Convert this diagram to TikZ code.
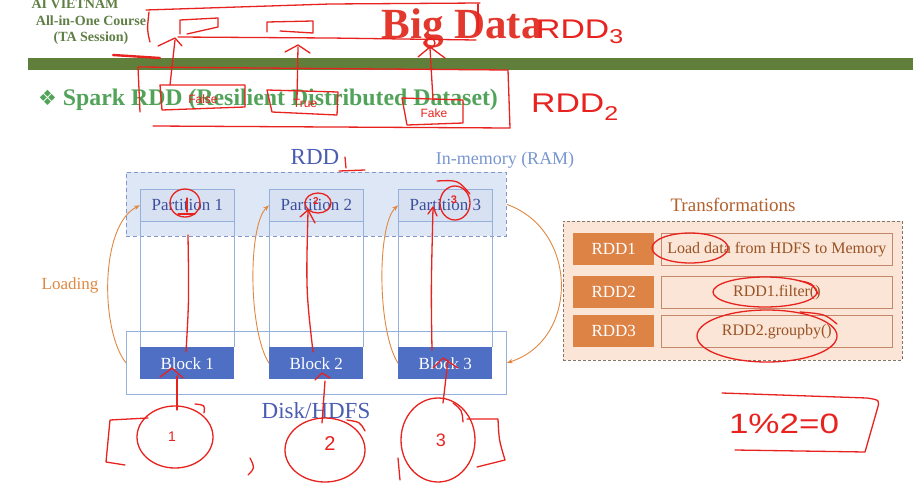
\documentclass[tikz,border=0pt]{standalone}
\usepackage{fontspec}
\usepackage{graphicx}
\setmainfont{Liberation Serif}
\newfontfamily\symfont{DejaVu Sans}
\newfontfamily\handfont{Liberation Sans}
\usetikzlibrary{arrows.meta}
\newcommand\setfs[1]{\fontsize{#1}{#1}\selectfont}
\definecolor{hdrgreen}{HTML}{5F7F45}
\definecolor{bargreen}{HTML}{5F7F3B}
\definecolor{titlegreen}{HTML}{52A35A}
\definecolor{bigred}{HTML}{E3382D}
\definecolor{annred}{HTML}{E8231F}
\definecolor{rddblue}{HTML}{4A5DB0}
\definecolor{parttext}{HTML}{3D4F9C}
\definecolor{inmem}{HTML}{7896D0}
\definecolor{memfill}{HTML}{DEE7F5}
\definecolor{memdash}{HTML}{8397CC}
\definecolor{partfill}{HTML}{D8E1F2}
\definecolor{colline}{HTML}{95B0DA}
\definecolor{blockfill}{HTML}{4E6FC3}
\definecolor{orarr}{HTML}{E0883F}
\definecolor{transtitle}{HTML}{B4602B}
\definecolor{transfill}{HTML}{FBE5D6}
\definecolor{transdash}{HTML}{857565}
\definecolor{rddbox}{HTML}{DE8346}
\definecolor{contborder}{HTML}{C5876A}
\begin{document}
\begin{tikzpicture}[x=1pt,y=-1pt,
  ann/.style={draw=annred, line width=1.3pt, line cap=round, line join=round},
  ldarrow/.style={draw=orarr, line width=0.9pt, -{Stealth[length=6pt,width=4.5pt]}},
  parthdr/.style={draw=colline, fill=partfill, line width=0.7pt, minimum width=94pt, minimum height=32pt, anchor=north west, inner sep=0pt, text=parttext, font=\setfs{17}},
  blockbox/.style={fill=blockfill, minimum width=94pt, minimum height=32pt, anchor=north west, inner sep=0pt, text=white, font=\setfs{17}},
  rddlab/.style={fill=rddbox, minimum width=81pt, minimum height=32pt, anchor=north west, inner sep=0pt, text=white, font=\setfs{17}},
  contbox/.style={draw=contborder, fill=transfill, line width=0.7pt, minimum width=231pt, minimum height=32pt, anchor=north west, inner sep=0pt, text=transtitle!85!black, font=\setfs{16}},
  handtxt/.style={text=annred, font=\handfont\setfs{12}, inner sep=0pt}
]
\useasboundingbox (0,0) rectangle (913,490);
\fill[white] (0,0) rectangle (913,490);

% header
\node[text=hdrgreen, font=\bfseries\setfs{14}, inner sep=0pt, anchor=base] (hdr1) at (75,8) {AI VIETNAM};
\node[text=hdrgreen, font=\bfseries\setfs{14}, inner sep=0pt, anchor=base] (hdr2) at (91,25) {All-in-One Course};
\node[text=hdrgreen, font=\bfseries\setfs{14}, inner sep=0pt, anchor=base] (hdr3) at (91,41) {(TA Session)};
\node[text=bigred, font=\bfseries\setfs{43}, inner sep=0pt, anchor=base] (big) at (462,38) {Big Data};
\fill[bargreen] (28,58) rectangle (913,70);
\node[text=titlegreen, font=\bfseries\setfs{23.8}, inner sep=0pt, anchor=base west] (title) at (38,105) {{\symfont\setfs{21}❖} Spark RDD (Resilient Distributed Dataset)};

% memory area
\node[draw=memdash, fill=memfill, dash pattern=on 4pt off 3pt, line width=0.8pt, minimum width=380pt, minimum height=64pt, anchor=north west, inner sep=0pt] (mem) at (126,172) {};
\node[text=rddblue, font=\setfs{23}, inner sep=0pt] (rddt) at (315,157) {RDD};
\node[text=inmem, font=\setfs{18}, inner sep=0pt] (inm) at (505,160) {In-memory (RAM)};

% columns
\foreach \i/\x in {1/140,2/269,3/398}{
  \draw[colline, line width=0.7pt] (\x,221) -- (\x,347) (\x+94,221) -- (\x+94,347);
}
\node[parthdr] (p1) at (140,189) {Partition 1};
\node[parthdr] (p2) at (269,189) {Partition 2};
\node[parthdr] (p3) at (398,189) {Partition 3};

% disk
\node[draw=colline, line width=0.8pt, minimum width=380pt, minimum height=63pt, anchor=north west, inner sep=0pt] (disk) at (126,331) {};
\node[blockbox] (b1) at (140,347) {Block 1};
\node[blockbox] (b2) at (269,347) {Block 2};
\node[blockbox] (b3) at (398,347) {Block 3};
\node[text=rddblue, font=\setfs{23}, inner sep=0pt] (hdfs) at (316,411) {Disk/HDFS};

% loading arrows
\draw[ldarrow] (disk.west) .. controls (100,330) and (100,225) .. (p1.west);
\draw[ldarrow] (b2.west) .. controls (248,330) and (248,225) .. (p2.west);
\draw[ldarrow] (b3.west) .. controls (377,330) and (377,225) .. (p3.west);
\draw[ldarrow] (mem.east) .. controls (579,230) and (579,340) .. (disk.east);
\node[text=orarr, font=\setfs{17}, inner sep=0pt] (load) at (70,285) {Loading};

% transformations
\node[text=transtitle, font=\setfs{19}, inner sep=0pt] (trt) at (733,205) {Transformations};
\node[draw=transdash, fill=transfill, dash pattern=on 3pt off 2pt, line width=0.8pt, minimum width=339pt, minimum height=139pt, anchor=north west, inner sep=0pt] (trbox) at (563,221) {};
\node[rddlab] (r1) at (573,233) {RDD1};
\node[rddlab] (r2) at (573,276) {RDD2};
\node[rddlab] (r3) at (573,315) {RDD3};
\node[contbox] (c1) at (661,233) {Load data from HDFS to Memory};
\node[contbox] (c2) at (661,276) {RDD1.filter()};
\node[contbox] (c3) at (661,315) {RDD2.groupby()};

% ===== red annotations =====
% top
\draw[ann] (150,42) .. controls (147,30) .. (149,12);
\draw[ann] (146,10) -- (330,4) -- (480,3);
\draw[ann] (478,4) -- (478,32);
\draw[ann] (178,37) -- (330,38) -- (476,40);
\draw[ann] (180,34) -- (180,20) -- (218,18) -- (218,27) -- (187,34);
\draw[ann] (267,32) -- (267,22) -- (313,21) -- (313,33) -- (280,31);
\draw[ann] (170,85) -- (175,40);
\draw[ann] (158,46) -- (175,38) -- (182,46);
\draw[ann] (297,100) -- (298,47);
\draw[ann] (285,52) -- (298,45) -- (310,53);
\draw[ann] (433,100) -- (430,48);
\draw[ann] (430,43) circle [radius=5];
\draw[ann] (418,57) -- (430,47) -- (445,58);
\draw[ann, line width=2.4pt] (113,55) -- (160,58);
\draw[ann] (140,112) -- (138,67) -- (508,70) -- (510,128) -- (153,126);
\draw[ann] (160,85) -- (245,85) -- (245,107) -- (162,110) -- cycle;
\draw[ann] (267,90) -- (338,92) -- (337,115) -- (272,112) -- cycle;
\draw[ann] (402,98) -- (463,100) -- (463,123) -- (407,125) -- cycle;
\node[handtxt] (fal) at (203,99) {False};
\node[handtxt] (tru) at (305,103) {True};
\node[handtxt] (fak) at (434,113) {Fake};
\node[text=annred, font=\handfont\setfs{27}, inner sep=0pt, anchor=base west] (rdd3) at (536,38) {\scalebox{1.25}[1]{RDD\raisebox{-5pt}{\setfs{20}3}}};
\node[text=annred, font=\handfont\setfs{27}, inner sep=0pt, anchor=base west] (rdd2) at (531,112) {\scalebox{1.25}[1]{RDD\raisebox{-8pt}{\setfs{20}2}}};

% partitions / blocks
\draw[ann] (345,157) -- (346,168);
\draw[ann] (339,171) -- (365,170);
\draw[ann] (185,203) ellipse [x radius=15, y radius=14];
\draw[ann] (187,198) -- (187,212);
\draw[ann] (178,214) -- (195,214);
\draw[ann] (318,203) ellipse [x radius=13, y radius=10];
\node[text=annred, font=\handfont\bfseries\setfs{10}, inner sep=0pt] (q2) at (316,201) {2};
\draw[ann] (455,203) ellipse [x radius=15, y radius=17];
\node[text=annred, font=\handfont\bfseries\setfs{11}, inner sep=0pt] (q3) at (454,200) {3};
\draw[ann] (437,181) .. controls (458,180) .. (470,194);
\draw[ann] (186,352) .. controls (189,300) .. (188,235);
\draw[ann] (313,352) .. controls (306,290) .. (308,211);
\draw[ann] (300,217) -- (308,210) -- (315,223);
\draw[ann] (432,350) .. controls (431,290) .. (433,208);
\draw[ann] (428,214) -- (433,207) -- (437,216);

\draw[ann] (160,377) -- (172,368) -- (183,378);
\draw[ann] (177,376) -- (177,410);
\draw[ann] (175,437) ellipse [x radius=38, y radius=31];
\draw[ann] (195,404) .. controls (205,405) .. (204,413);
\node[text=annred, font=\handfont\setfs{14}, inner sep=0pt] (n1) at (172,437) {1};
\draw[ann] (148,418) -- (110,420) -- (106,462) -- (125,465);
\draw[ann] (315,380) -- (322,373) -- (330,378);
\draw[ann] (325,381) -- (322,423);
\draw[ann] (325,450) ellipse [x radius=40, y radius=32];
\draw[ann] (347,420) .. controls (360,422) .. (365,431);
\node[text=annred, font=\handfont\setfs{20}, inner sep=0pt] (n2) at (330,444) {2};
\draw[ann] (250,458) .. controls (255,468) .. (248,475);
\draw[ann] (433,368) -- (443,358) -- (458,368);
\draw[ann] (448,360) -- (443,403);
\draw[ann] (438,440) ellipse [x radius=37, y radius=42];
\draw[ann] (453,403) .. controls (462,410) .. (463,422);
\node[text=annred, font=\handfont\setfs{18}, inner sep=0pt] (n3) at (441,440) {3};
\draw[ann] (467,419) -- (498,419) .. controls (499,440) .. (505,460) -- (477,467);
\draw[ann] (398,458) -- (400,480);

% transformations annotations
\draw[ann] (690,248) ellipse [x radius=38, y radius=15];
\draw[ann] (765,292) ellipse [x radius=52, y radius=15];
\draw[ann] (800,281) .. controls (812,283) .. (818,294);
\draw[ann] (767,336) ellipse [x radius=70, y radius=26];
\draw[ann] (800,312) .. controls (825,314) .. (837,324);

% 1%2=0
\draw[ann] (722,393) -- (867,398) .. controls (880,400) .. (877,410) -- (865,452) -- (735,450);
\node[text=annred, font=\handfont\setfs{28}, inner sep=0pt] (eq) at (784,424) {\scalebox{1.25}[1]{1\%2=0}};
\end{tikzpicture}
\end{document}
